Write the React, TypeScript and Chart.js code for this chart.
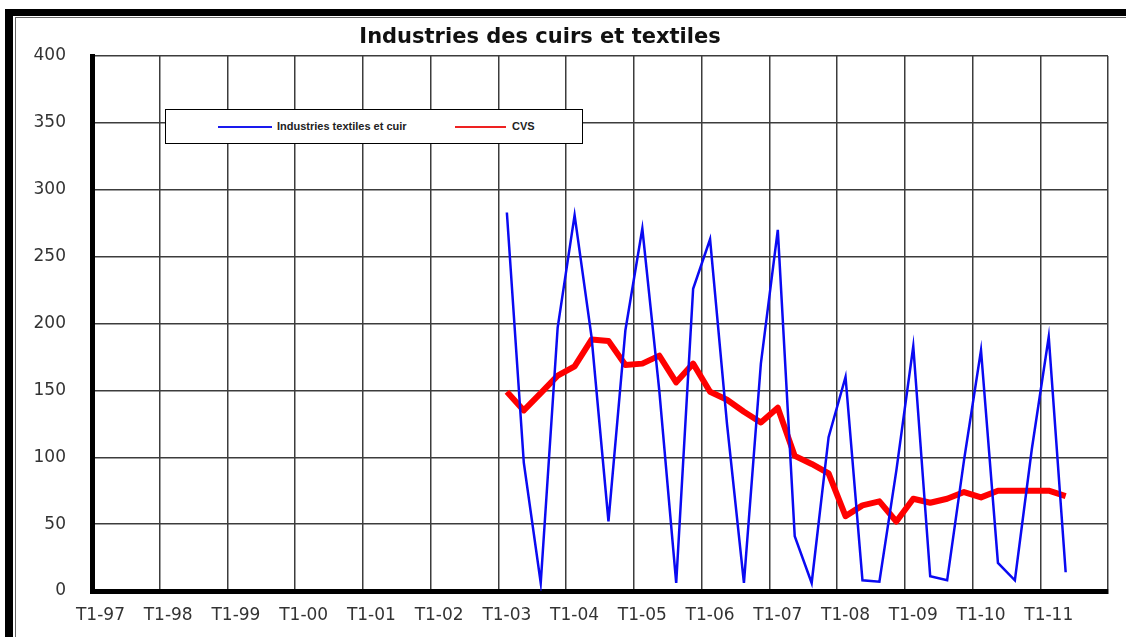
import React, { useEffect, useRef } from 'react';
import { Chart, registerables } from 'chart.js';

Chart.register(...registerables);

// ---- Data ----
const years = ['97', '98', '99', '00', '01', '02', '03', '04', '05', '06', '07', '08', '09', '10', '11'];
const quarters = ['T1', 'T2', 'T3', 'T4'];
const firstDataLabel = 'T1-03';

// Quarterly values from T1-03 to T2-11
const textilesCuir = [
  283, 96, 6, 197,
  281, 190, 52, 195,
  271, 150, 6, 226,
  263, 125, 6, 170,
  270, 41, 6, 115,
  160, 8, 7, 90,
  183, 11, 8, 98,
  180, 21, 8, 106,
  190, 14,
];
const cvs = [
  149, 135, 148, 161,
  168, 188, 187, 169,
  170, 176, 156, 170,
  149, 143, 134, 126,
  137, 101, 95, 88,
  56, 64, 67, 52,
  69, 66, 69, 74,
  70, 75, 75, 75,
  75, 71,
];

const yTicksMin = 0;
const yTicksMax = 400;
const yTickStep = 50;

const labels = years.flatMap((y) => quarters.map((q) => `${q}-${y}`));
const startIndex = labels.indexOf(firstDataLabel);
const alignSeries = (arr: number[]) =>
  labels.map((_, i) => (i >= startIndex && i - startIndex < arr.length ? arr[i - startIndex] : null));

const GRID = '#3c3c3c';
const TICK_FONT = { family: "'DejaVu Sans', sans-serif", size: 17 };

export default function App() {
  const canvasRef = useRef<HTMLCanvasElement | null>(null);

  useEffect(() => {
    const canvas = canvasRef.current;
    if (!canvas) return;
    const chart = new Chart(canvas, {
      type: 'line',
      data: {
        labels,
        datasets: [
          {
            label: 'Industries textiles et cuir',
            data: alignSeries(textilesCuir),
            borderColor: '#0a0af2',
            borderWidth: 2.5,
            pointRadius: 0,
            tension: 0,
            fill: false,
          },
          {
            label: 'CVS',
            data: alignSeries(cvs),
            borderColor: '#ff0000',
            borderWidth: 6,
            borderJoinStyle: 'round',
            borderCapStyle: 'butt',
            pointRadius: 0,
            tension: 0,
            fill: false,
          },
        ],
      },
      options: {
        responsive: false,
        animation: false,
        events: [],
        layout: { padding: { left: 0, right: 18, top: 38, bottom: 0 } },
        plugins: {
          legend: { display: false },
          title: { display: false },
          tooltip: { enabled: false },
        },
        scales: {
          x: {
            type: 'category',
            offset: true,
            grid: {
              offset: true,
              drawTicks: false,
              lineWidth: 1.5,
              color: (ctx: any) =>
                ctx.type !== 'tick' || ctx.index % 4 === 0 ? GRID : 'rgba(0,0,0,0)',
            },
            border: { display: true, color: '#000', width: 5 },
            ticks: {
              autoSkip: false,
              maxRotation: 0,
              minRotation: 0,
              padding: 14,
              color: '#333',
              font: TICK_FONT,
              callback: (_v: any, i: number) => (i % 4 === 0 ? labels[i] : ''),
            },
            afterFit: (s: any) => {
              s.height = 46;
            },
          },
          y: {
            min: yTicksMin,
            max: yTicksMax,
            grid: { drawTicks: false, lineWidth: 1.5, color: GRID },
            border: { display: true, color: '#000', width: 5 },
            ticks: {
              stepSize: yTickStep,
              padding: 26,
              color: '#333',
              font: TICK_FONT,
            },
            afterFit: (s: any) => {
              s.width = 76;
            },
          },
        },
      },
    });
    return () => chart.destroy();
  }, []);

  return (
    <div
      style={{
        position: 'fixed',
        left: 0,
        top: 0,
        width: 1126,
        height: 637,
        background: '#fff',
        overflow: 'hidden',
        fontFamily: "'Liberation Sans', Arial, sans-serif",
      }}
    >
      <div style={{ position: 'absolute', left: 5, top: 9, width: 1121, height: 7, background: '#000' }} />
      <div style={{ position: 'absolute', left: 5, top: 9, width: 8, height: 628, background: '#000' }} />
      <div style={{ position: 'absolute', left: 15, top: 17, width: 1111, height: 1, background: '#666' }} />
      <div style={{ position: 'absolute', left: 15, top: 17, width: 1, height: 620, background: '#666' }} />
      <canvas
        ref={canvasRef}
        width={1110}
        height={619}
        style={{ position: 'absolute', left: 16, top: 18, width: 1110, height: 619 }}
      />
      <div
        style={{
          position: 'absolute',
          left: 0,
          top: 26,
          width: 1080,
          textAlign: 'center',
          fontFamily: "'DejaVu Sans', sans-serif",
          fontWeight: 'bold',
          fontSize: 21,
          lineHeight: '21px',
          color: '#111',
          whiteSpace: 'nowrap',
        }}
      >
        Industries des cuirs et textiles
      </div>
      <div
        style={{
          position: 'absolute',
          left: 165,
          top: 109,
          width: 416,
          height: 33,
          border: '1px solid #000',
          background: '#fff',
        }}
      >
        <div style={{ position: 'absolute', left: 52, top: 16, width: 54, height: 2, background: '#1a1aee' }} />
        <div
          style={{
            position: 'absolute',
            left: 111,
            top: 9,
            fontSize: 11,
            lineHeight: '14px',
            fontWeight: 'bold',
            color: '#222',
            whiteSpace: 'nowrap',
          }}
        >
          Industries textiles et cuir
        </div>
        <div style={{ position: 'absolute', left: 289, top: 16, width: 51, height: 2, background: '#ee2222' }} />
        <div
          style={{
            position: 'absolute',
            left: 346,
            top: 9,
            fontSize: 11,
            lineHeight: '14px',
            fontWeight: 'bold',
            color: '#222',
            whiteSpace: 'nowrap',
          }}
        >
          CVS
        </div>
      </div>
    </div>
  );
}
